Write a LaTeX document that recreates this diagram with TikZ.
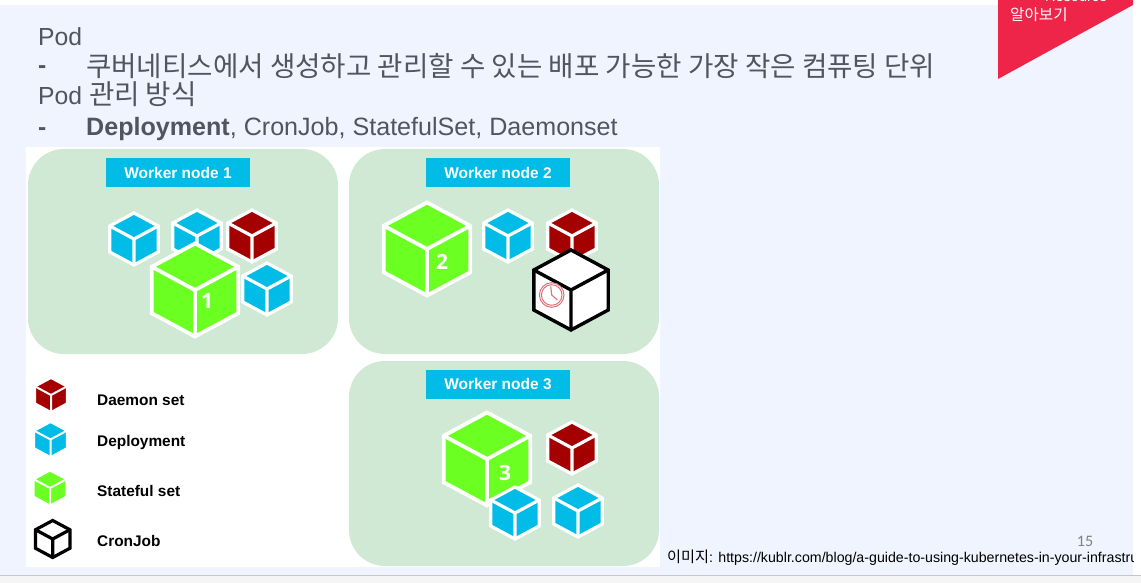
\documentclass[tikz,border=0pt]{standalone}
\usepackage{fontspec}
\setmainfont{Liberation Sans}
\newfontfamily\kofont{Noto Sans CJK KR}
\newfontfamily\numfont{Carlito}
\newfontfamily\cubefont{Open Sans}
\definecolor{slidebg}{HTML}{EFF4FF}
\definecolor{slideink}{HTML}{50555F}
\definecolor{cornerred}{HTML}{EE2449}
\definecolor{panelgreen}{HTML}{D0E9D4}
\definecolor{labelblue}{HTML}{00BCE6}
\definecolor{daemonred}{HTML}{A50000}
\definecolor{statefulgreen}{HTML}{6CFF22}
\definecolor{clockred}{HTML}{E2707C}
\tikzset{
  headline/.style={anchor=base west, inner sep=0pt, text=slideink, font=\fontsize{24.7}{26}\selectfont},
  workerpanel/.style={fill=panelgreen, rounded corners=36pt},
  workerlabel/.style={fill=labelblue, text=white, inner sep=0pt, minimum width=144pt, minimum height=29pt, font=\bfseries\fontsize{15.5}{16}\selectfont},
  legendtext/.style={anchor=base west, inner sep=0pt, font=\bfseries\fontsize{15.4}{16}\selectfont},
  cubenumber/.style={text=white, inner sep=0pt, font=\cubefont\bfseries\fontsize{21}{21}\selectfont},
}
\newcommand{\cubeat}[6]{
  \begin{scope}[shift={(#1,#2)},scale=#3]
  \filldraw[fill=#4, draw=#5, line width=#6pt] (0,-1) -- (.93,-.5) -- (.93,.5) -- (0,1) -- (-.93,.5) -- (-.93,-.5) -- cycle;
  \draw[#5, line width=#6pt] (-.93,-.5) -- (0,0) -- (.93,-.5) (0,0) -- (0,1);
  \end{scope}
}
\begin{document}
\begin{tikzpicture}[x=1pt,y=-1pt]
\useasboundingbox (0,0) rectangle (1141,583);
\fill[white] (0,0) rectangle (1141,583);
\fill[slidebg] (0,5) rectangle (1133,575);
\fill[black!4] (0,575) rectangle (1141,583);
\draw[black!22, line width=1pt] (0,575) -- (1141,575);

\fill[cornerred] (998,0) -- (1133,0) -- (1133,5) -- (998,79) -- cycle;
\begin{scope}
\clip (998,0) rectangle (1133,30);
\node[anchor=base west, inner sep=0pt, text=white, font=\fontsize{14.5}{16}\selectfont] (cornertop) at (1045,2) {Resource};
\node[anchor=base west, inner sep=0pt, text=white, font=\kofont\fontsize{15.6}{16}\selectfont] (cornerword) at (1010,20.5) {알아보기};
\end{scope}

\node[headline] (podtitle) at (38,46) {Pod};
\node[headline, font=\bfseries\fontsize{24.7}{26}\selectfont] (poddash) at (38,74) {-};
\node[headline, font=\kofont\fontsize{27.6}{28}\selectfont] (poddesc) at (86,76.5) {쿠버네티스에서 생성하고 관리할 수 있는 배포 가능한 가장 작은 컴퓨팅 단위};
\node[headline] (mgmttitle) at (38,105) {Pod {\kofont\fontsize{27.6}{28}\selectfont 관리 방식}};
\node[headline, font=\bfseries\fontsize{24.7}{26}\selectfont] (mgmtdash) at (38,136) {-};
\node[headline, font=\fontsize{25.1}{26}\selectfont] (mgmtlist) at (86,136) {\textbf{Deployment}, CronJob, StatefulSet, Daemonset};

\fill[white] (26,147) rectangle (660,567);
\fill[workerpanel] (28,149) rectangle (338,354);
\fill[workerpanel] (349,149) rectangle (659,354);
\fill[workerpanel] (349,361) rectangle (659,566);
\node[workerlabel] (worker1) at (178,172.5) {Worker node 1};
\node[workerlabel] (worker2) at (498,172.5) {Worker node 2};
\node[workerlabel] (worker3) at (498,384) {Worker node 3};

\cubeat{134}{239}{26}{labelblue}{white}{3.2}
\cubeat{197}{236}{26}{labelblue}{white}{3.2}
\cubeat{252}{236}{26}{daemonred}{white}{3.2}
\cubeat{267}{289}{26}{labelblue}{white}{3.2}
\cubeat{195}{290}{46.5}{statefulgreen}{white}{3.8}
\node[cubenumber] (num1) at (207,301) {1};

\cubeat{427}{249}{46.5}{statefulgreen}{white}{3.8}
\node[cubenumber] (num2) at (442,262) {2};
\cubeat{508}{236}{26}{labelblue}{white}{3.2}
\cubeat{572}{236}{26}{daemonred}{white}{3.2}
\cubeat{571}{290}{40}{white}{black}{3.4}
\draw[clockred, line width=1pt] (551.7,295) circle (12.3) circle (10.3);
\draw[clockred, line width=1.1pt] (550.7,286.5) -- (551.7,295) -- (557.5,300);

\cubeat{487}{459}{46.5}{statefulgreen}{white}{3.8}
\node[cubenumber] (num3) at (505,473) {3};
\cubeat{572}{448}{26}{daemonred}{white}{3.2}
\cubeat{515}{513}{26}{labelblue}{white}{3.2}
\cubeat{578}{511}{26}{labelblue}{white}{3.2}

\cubeat{51}{395}{17}{daemonred}{white}{2}
\cubeat{50.5}{439.5}{17.5}{labelblue}{white}{2}
\cubeat{50}{488}{17.5}{statefulgreen}{white}{2}
\cubeat{52.7}{539}{18.5}{white}{black}{3.2}
\node[legendtext] (legdaemon) at (97,405) {Daemon set};
\node[legendtext] (legdeploy) at (97,446) {Deployment};
\node[legendtext] (legstate) at (97,496) {Stateful set};
\node[legendtext] (legcron) at (97,546) {CronJob};

\node[anchor=base, inner sep=0pt, text=black!50, font=\numfont\fontsize{16}{16}\selectfont] (pagenum) at (1085,546) {15};
\begin{scope}
\clip (660,540) rectangle (1133,575);
\node[anchor=base west, inner sep=0pt, font=\fontsize{14.2}{16}\selectfont] (imgsource) at (667,562) {{\kofont\fontsize{15.2}{16}\selectfont 이미지}: https://kublr.com/blog/a-guide-to-using-kubernetes-in-your-infrastructure};
\end{scope}
\end{tikzpicture}
\end{document}
